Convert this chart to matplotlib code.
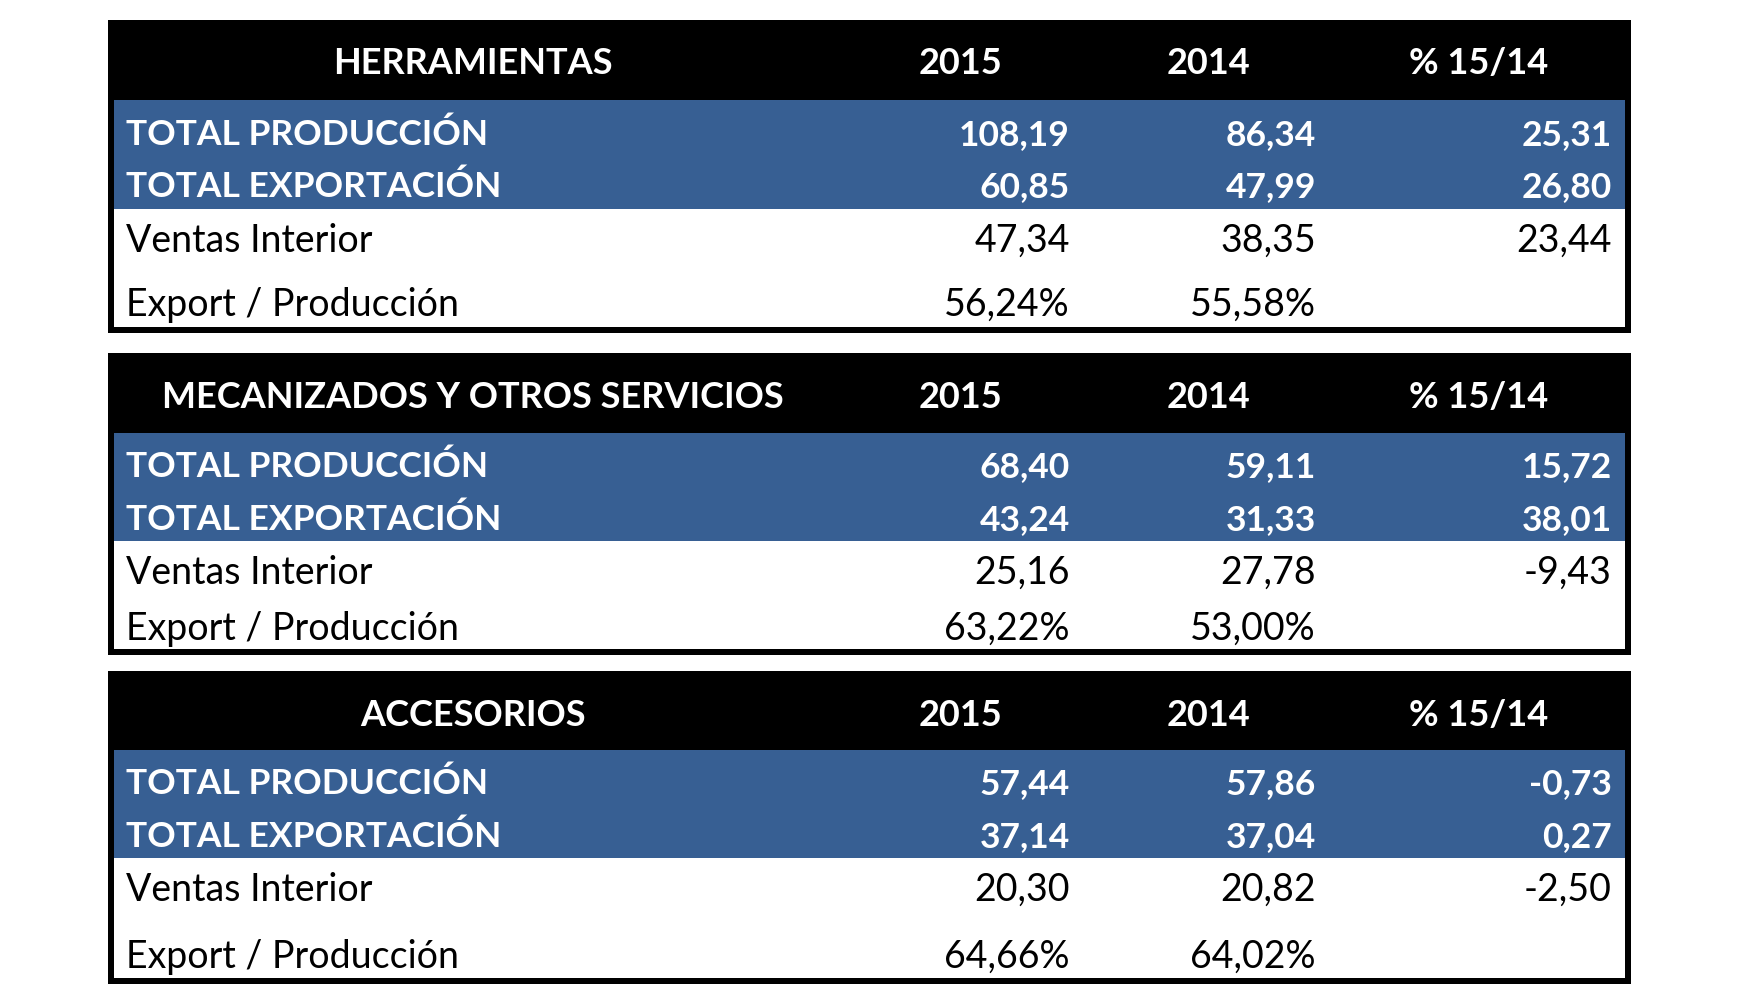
import matplotlib
matplotlib.use("Agg")
import matplotlib.pyplot as plt
from matplotlib.patches import Rectangle

plt.rcParams['font.family'] = ['Lato', 'DejaVu Sans']

# table data
sections = ["HERRAMIENTAS", "MECANIZADOS Y OTROS SERVICIOS", "ACCESORIOS"]
columns = ["2015", "2014", "% 15/14"]
row_labels = ["TOTAL PRODUCCIÓN", "TOTAL EXPORTACIÓN", "Ventas Interior", "Export / Producción"]

prod_2015 = [108.19, 68.40, 57.44]
prod_2014 = [86.34, 59.11, 57.86]
prod_var = [25.31, 15.72, -0.73]
exp_2015 = [60.85, 43.24, 37.14]
exp_2014 = [47.99, 31.33, 37.04]
exp_var = [26.80, 38.01, 0.27]
int_2015 = [47.34, 25.16, 20.30]
int_2014 = [38.35, 27.78, 20.82]
int_var = [23.44, -9.43, -2.50]
ratio_2015 = [56.24, 63.22, 64.66]
ratio_2014 = [55.58, 53.00, 64.02]

BLUE = "#375f93"


def fmt(v, pct=False):
    s = f"{v:.2f}".replace(".", ",")
    return s + "%" if pct else s


# layout in pixels (figure is 1750 x 1000)
left, right = 108, 1631
border = 6
tops = [20, 353, 671]
header_h = [80, 80, 79]
blue_h = [109, 108, 108]
bottoms = [333, 655, 984]
row_off = [[35, 87, 141, 205], [34, 87, 140, 196], [34, 87, 140, 207]]
header_off = 44
title_x = 473
col_center = [960, 1209, 1479]
col_right = [1070, 1316, 1612]
label_x = 126
fs_head = 26
fs_bold = 25.5
fs_norm = 27

fig = plt.figure(figsize=(17.5, 10), dpi=100)
ax = fig.add_axes([0, 0, 1, 1])
ax.set_xlim(0, 1750)
ax.set_ylim(1000, 0)
ax.axis("off")

for i, name in enumerate(sections):
    top, bot = tops[i], bottoms[i]
    ax.add_patch(Rectangle((left, top), right - left, bot - top, color="black", lw=0))
    hb = top + header_h[i]
    ax.add_patch(Rectangle((left + border, hb), right - left - 2 * border,
                           bot - border - hb, color="white", lw=0))
    ax.add_patch(Rectangle((left + border, hb), right - left - 2 * border,
                           blue_h[i], color=BLUE, lw=0))

    hy = top + header_off
    ax.text(title_x, hy, name, color="white", fontsize=fs_head, fontweight="bold",
            ha="center", va="center")
    for c, lab in enumerate(columns):
        ax.text(col_center[c], hy, lab, color="white", fontsize=fs_head, fontweight="bold",
                ha="center", va="center")

    rows = [
        [fmt(prod_2015[i]), fmt(prod_2014[i]), fmt(prod_var[i])],
        [fmt(exp_2015[i]), fmt(exp_2014[i]), fmt(exp_var[i])],
        [fmt(int_2015[i]), fmt(int_2014[i]), fmt(int_var[i])],
        [fmt(ratio_2015[i], True), fmt(ratio_2014[i], True), ""],
    ]
    for r, lab in enumerate(row_labels):
        y = hb + row_off[i][r]
        bold = r < 2
        col = "white" if bold else "black"
        w = "bold" if bold else "normal"
        fs = fs_bold if bold else fs_norm
        ax.text(label_x, y, lab, color=col, fontsize=fs, fontweight=w,
                ha="left", va="center")
        for c, val in enumerate(rows[r]):
            ax.text(col_right[c], y, val, color=col, fontsize=fs, fontweight=w,
                    ha="right", va="center")

fig.savefig("out.png", dpi=100, facecolor="white")
